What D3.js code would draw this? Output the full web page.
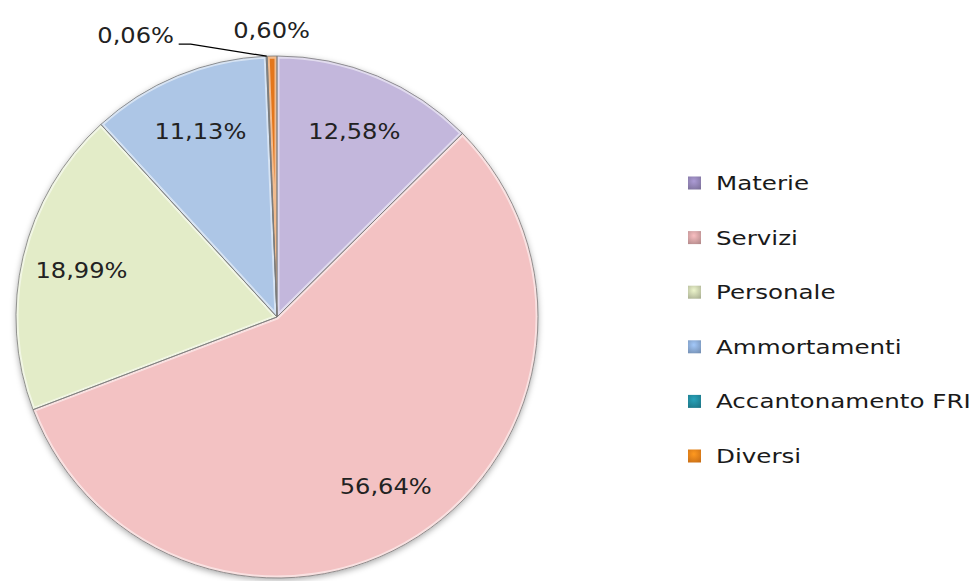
<!DOCTYPE html>
<html>
<head>
<meta charset="utf-8">
<script src="https://cdn.jsdelivr.net/npm/d3@7"></script>
<style>
  html, body { margin: 0; padding: 0; background: #ffffff; }
  svg { display: block; }
</style>
</head>
<body>
<svg id="chart" width="979" height="581"></svg>
<script>
const categories = ["Materie", "Servizi", "Personale", "Ammortamenti", "Accantonamento FRI", "Diversi"];
const values = [12.58, 56.64, 18.99, 11.13, 0.06, 0.60];
const valueLabels = ["12,58%", "56,64%", "18,99%", "11,13%", "0,06%", "0,60%"];
const sliceColors = ["#c3b7dc", "#f3c2c3", "#e3ecc8", "#adc6e6", "#31899b", "#e3761c"];
const swatchColors = ["#8679a6", "#c29596", "#b9bf9f", "#7f9cc2", "#1f7f91", "#d97718"];

const svg = d3.select("#chart");
const cx = 277, cy = 317, R = 261;

const defs = svg.append("defs");
const f = defs.append("filter").attr("id", "shadow")
  .attr("x", "-10%").attr("y", "-10%").attr("width", "120%").attr("height", "120%");
f.append("feDropShadow").attr("dx", 0).attr("dy", 2).attr("stdDeviation", 3)
  .attr("flood-color", "#000").attr("flood-opacity", 0.35);

swatchColors.forEach((c, i) => {
  const g = defs.append("radialGradient").attr("id", "sw" + i)
    .attr("cx", "45%").attr("cy", "35%").attr("r", "75%");
  g.append("stop").attr("offset", "0%").attr("stop-color", d3.color(c).brighter(0.7));
  g.append("stop").attr("offset", "100%").attr("stop-color", d3.color(c).darker(0.2));
});

const pie = d3.pie().sort(null).value(d => d).startAngle(0).endAngle(2 * Math.PI);
const arcs = pie(values);
const arc = d3.arc().innerRadius(0).outerRadius(R);

// shadow base
svg.append("circle").attr("cx", cx).attr("cy", cy).attr("r", R)
  .attr("fill", "#ddd").attr("filter", "url(#shadow)");

// slices
const sliceG = svg.append("g").attr("transform", `translate(${cx},${cy})`);
sliceG.selectAll("path").data(arcs).enter().append("path")
  .attr("d", arc)
  .attr("fill", (d, i) => sliceColors[i]);

// inner bevel highlight, clipped to each slice
arcs.forEach((a, i) => {
  defs.append("clipPath").attr("id", "clip" + i)
    .append("path").attr("d", arc(a)).attr("transform", `translate(${cx},${cy})`);
});
const hlG = svg.append("g");
arcs.forEach((a, i) => {
  hlG.append("g").attr("clip-path", `url(#clip${i})`)
    .append("path")
    .attr("d", arc(a))
    .attr("transform", `translate(${cx},${cy})`)
    .attr("fill", "none")
    .attr("stroke", "#ffffff")
    .attr("stroke-opacity", 0.5)
    .attr("stroke-width", 5);
});

// outlines
const olG = svg.append("g").attr("transform", `translate(${cx},${cy})`);
olG.selectAll("path").data(arcs).enter().append("path")
  .attr("d", arc).attr("fill", "none")
  .attr("stroke", "#7a7a7a").attr("stroke-opacity", 0.8).attr("stroke-width", 1);

// labels
const labelScale = 1.15;
const fontFam = "'DejaVu Sans', Verdana, sans-serif";
const inArc = d3.arc().innerRadius(R * 0.77).outerRadius(R * 0.77);
const outArc = d3.arc().innerRadius(R * 1.1).outerRadius(R * 1.1);
const edgeArc = d3.arc().innerRadius(R).outerRadius(R);
const lblG = svg.append("g");

arcs.forEach((a, i) => {
  let x, y;
  if (values[i] >= 5) {
    [x, y] = inArc.centroid(a);
  } else if (values[i] >= 0.3) {
    [x, y] = outArc.centroid(a);
  } else {
    const [ex, ey] = edgeArc.centroid(a);
    const lx = ex - 88, ly = ey - 12;
    lblG.append("path")
      .attr("d", `M${cx + ex},${cy + ey} L${cx + lx + 12},${cy + ly} L${cx + lx},${cy + ly}`)
      .attr("fill", "none").attr("stroke", "#000").attr("stroke-width", 1.2);
    x = lx - 43; y = ly - 9;
  }
  lblG.append("text")
    .attr("transform", `translate(${cx + x},${cy + y}) scale(${labelScale},1)`)
    .attr("text-anchor", "middle")
    .attr("dy", "0.36em")
    .attr("font-family", fontFam)
    .attr("font-size", 21)
    .attr("fill", "#222")
    .text(valueLabels[i]);
});

// legend
const legendScale = 1.26;
const legY = d3.scalePoint().domain(categories).range([183, 456]);
const legG = svg.append("g");
categories.forEach((c, i) => {
  const yy = legY(c);
  legG.append("rect")
    .attr("x", 688).attr("y", yy - 6.5).attr("width", 13).attr("height", 13)
    .attr("fill", `url(#sw${i})`);
  legG.append("text")
    .attr("transform", `translate(716,${yy + 7}) scale(${legendScale},1)`)
    .attr("font-family", fontFam)
    .attr("font-size", 19.5)
    .attr("fill", "#1a1a1a")
    .text(c);
});
</script>
</body>
</html>
